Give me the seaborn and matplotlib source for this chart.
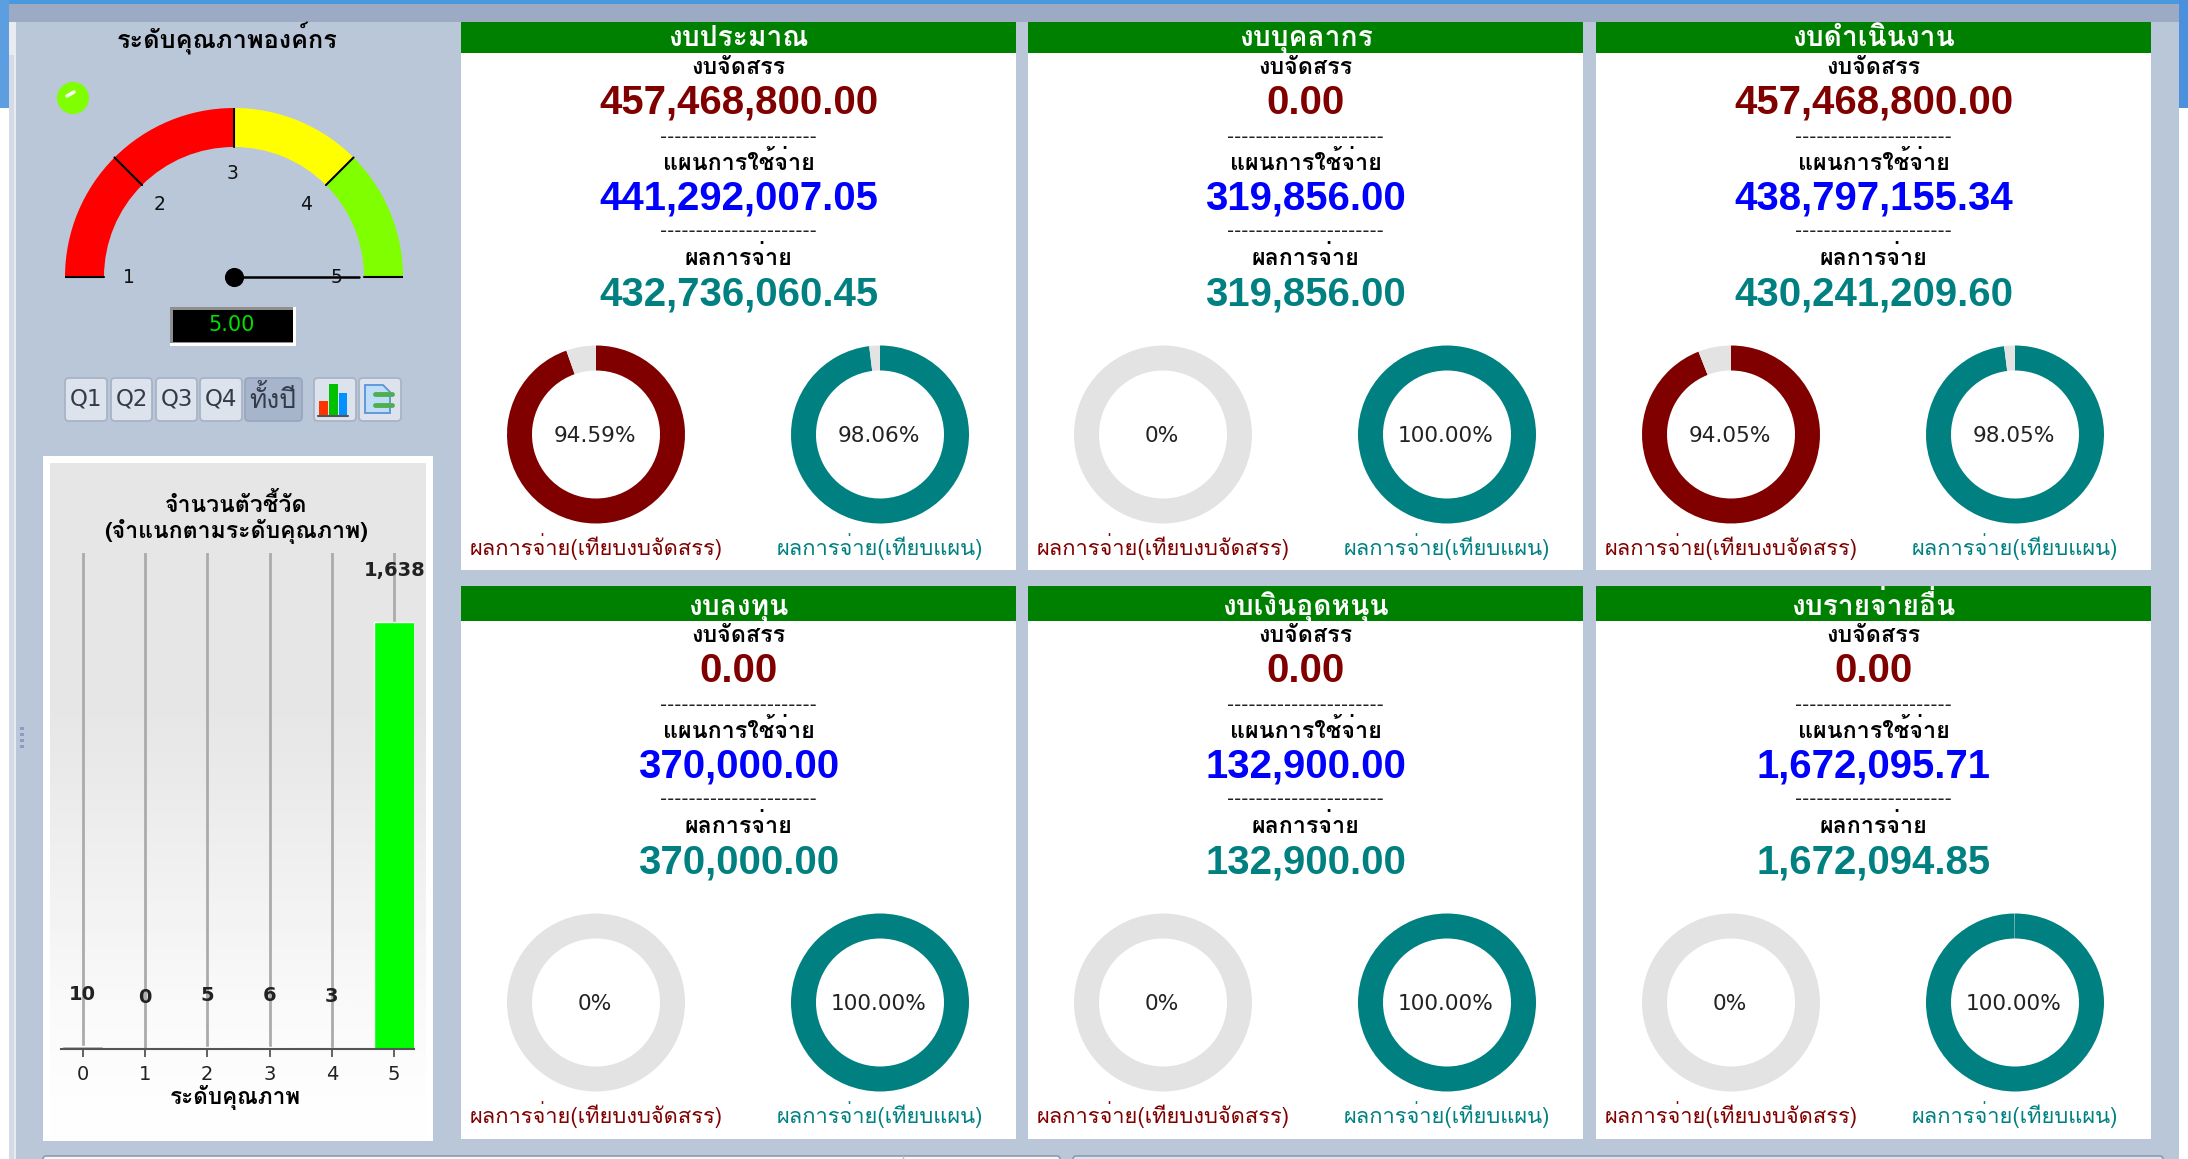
import numpy as np
import pandas as pd
import matplotlib
matplotlib.use('Agg')
import matplotlib.pyplot as plt
from matplotlib.patches import Rectangle, FancyBboxPatch, Circle, Polygon
import seaborn as sns

W, H = 2188, 1159

# ---------- data ----------
panel_titles = ['งบประมาณ', 'งบบุคลากร', 'งบดำเนินงาน', 'งบลงทุน', 'งบเงินอุดหนุน', 'งบรายจ่ายอื่น']
allocated = ['457,468,800.00', '0.00', '457,468,800.00', '0.00', '0.00', '0.00']
planned = ['441,292,007.05', '319,856.00', '438,797,155.34', '370,000.00', '132,900.00', '1,672,095.71']
paid = ['432,736,060.45', '319,856.00', '430,241,209.60', '370,000.00', '132,900.00', '1,672,094.85']
pct_alloc = [94.59, 0, 94.05, 0, 0, 0]
pct_plan = [98.06, 100.00, 98.05, 100.00, 100.00, 99.95]
pct_alloc_labels = ['94.59%', '0%', '94.05%', '0%', '0%', '0%']
pct_plan_labels = ['98.06%', '100.00%', '98.05%', '100.00%', '100.00%', '100.00%']

levels = ['0', '1', '2', '3', '4', '5']
level_counts = [10, 0, 5, 6, 3, 1638]
level_count_labels = ['10', '0', '5', '6', '3', '1,638']
level_colors = ['#AAAAAA', '#FF0000', '#FF00FF', '#FFFF00', '#FFA500', '#00FF00']

gauge_value = 5.00
gauge_ticks = [1, 2, 3, 4, 5]
gauge_spans = [2, 1, 1]
gauge_colors = ['#FF0000', '#FFFF00', '#7FFF00']

lbl_alloc = 'งบจัดสรร'
lbl_plan = 'แผนการใช้จ่าย'
lbl_paid = 'ผลการจ่าย'
cap_alloc = 'ผลการจ่าย(เทียบงบจัดสรร)'
cap_plan = 'ผลการจ่าย(เทียบแผน)'
quarters = ['Q1', 'Q2', 'Q3', 'Q4', 'ทั้งปี']

# ---------- style ----------
sns.set_style('white')
plt.rcParams['font.family'] = ['Loma', 'DejaVu Sans']

BG = '#BAC7D9'
RED = '#800000'
BLUE = '#0000FF'
TEAL = '#008080'
GRAY = '#E3E3E3'
GREEN = '#008000'
DJV = ['DejaVu Sans']
NUM = ['Liberation Sans']

fig = plt.figure(figsize=(W / 100, H / 100), dpi=100, facecolor=BG)


def axpx(x0, y0, x1, y1, z=1):
    a = fig.add_axes([x0 / W, 1 - y1 / H, (x1 - x0) / W, (y1 - y0) / H], zorder=z)
    return a


bg = axpx(0, 0, W, H, 0)
bg.set_xlim(0, W)
bg.set_ylim(H, 0)
bg.axis('off')


def rect(x0, y0, x1, y1, c, z=1, **k):
    bg.add_patch(Rectangle((x0, y0), x1 - x0, y1 - y0, facecolor=c, edgecolor='none', zorder=z, **k))


def txt(x, y, s, size, c='black', bold=False, a=None, va='center', **k):
    return (a or bg).text(x, y, s, fontsize=size, color=c, ha='center', va=va,
                          fontweight='bold' if bold else 'normal', zorder=10, **k)


# window frame
rect(0, 0, W, 4, '#4A98E0')
rect(0, 4, W, 22, '#9CABC3')
rect(0, 0, 9, 108, '#5C9EE0')
rect(0, 108, 9, H, '#FFFFFF')
rect(9, 22, 16, H, '#E8EBF0')
rect(9, 55, 14, H, '#D5DBE6')
rect(2179, 0, W, 108, '#4A90DC')
rect(2179, 108, W, H, '#FFFFFF')
for yy in [727, 733, 739, 745]:
    rect(20, yy, 24, yy + 3, '#8C9CC0')

# gauge
txt(227, 38, 'ระดับคุณภาพองค์กร', 18.2, bold=True)
bg.add_patch(Circle((73, 98), 16, fc='#7FFF00', ec='none', zorder=3))
bg.plot([67, 74], [96, 92], color='white', lw=2.5, zorder=4)

gx, gy, gR, gr = 234, 277, 169, 130
ga = axpx(gx - gR, gy - gR, gx + gR, gy + gR, 2)
ga.patch.set_alpha(0)
wedges, _ = ga.pie(gauge_spans + [sum(gauge_spans)], colors=gauge_colors + ['none'], startangle=180,
                   counterclock=False, radius=1, wedgeprops=dict(width=1 - gr / gR, linewidth=0))
ga.set_xlim(-1, 1)
ga.set_ylim(-1, 1)
for t in gauge_ticks:
    ang = np.pi * (1 - (t - 1) / 4)
    if t < 5:
        ga.plot([gr / gR * np.cos(ang), np.cos(ang)], [gr / gR * np.sin(ang), np.sin(ang)], color='black', lw=1.5)
    ga.text(0.615 * np.cos(ang) - 0.006, 0.615 * np.sin(ang) - 0.005, str(t), ha='center', va='center',
            fontsize=13.5, color='#111111', family=DJV, zorder=9)
ga.plot([gr / gR, 1], [0, 0], color='black', lw=1.5)
ang = np.pi * (1 - (gauge_value - 1) / 4)
ga.plot([0, 0.74 * np.cos(ang)], [0, 0.74 * np.sin(ang)], color='black', lw=1.8, zorder=8)
ga.scatter([0], [0], s=190, color='black', zorder=9, linewidths=0)

# digital read-out
rect(170, 307, 296, 346, '#FFFFFF')
rect(170, 307, 293, 343, '#8F8F8F')
rect(173, 310, 293, 342, '#000000')
txt(232, 325, f'{gauge_value:.2f}', 15, c='#00E000', family=DJV)


def button(x0, x1, c='#DDE3EC', ec='#A8B4C6'):
    bg.add_patch(FancyBboxPatch((x0 + 1, 378), x1 - x0 - 2, 43, boxstyle='round,pad=0,rounding_size=4',
                                fc=c, ec=ec, lw=1.3, zorder=3))


for (x0, x1), q in zip([(64, 108), (110, 153), (155, 198), (199, 243), (244, 303)], quarters):
    active = q == quarters[-1]
    button(x0, x1, '#A6B5CC' if active else '#DDE3EC', '#98A7BE' if active else '#A8B4C6')
    txt((x0 + x1) / 2 - (1 if active else 0), 399, q, 19 if active else 16.5, c='#333B4A',
        family=['Loma'] if active else DJV)
button(313, 357)
button(358, 402)
# toolbar icons
rect(319, 401, 328, 415, '#FF3300', z=5)
rect(329, 384, 338, 415, '#00C000', z=5)
rect(339, 393, 347, 415, '#0090FF', z=5)
bg.plot([318, 348], [415.5, 415.5], color='#555555', lw=1.5, zorder=6)
bg.add_patch(Polygon([(365, 385), (383, 385), (390, 392), (390, 413), (365, 413)],
                     fc='#BFDDF7', ec='#5A93D8', lw=1.3, zorder=5))
bg.plot([375, 392], [394, 394], color='#4FAF4F', lw=3.5, zorder=6)
bg.plot([375, 392], [405, 405], color='#4FAF4F', lw=3.5, zorder=6)

# bar chart card
rect(43, 456, 433, 1141, '#FFFFFF')
grad = bg.imshow(np.array([0.902] * 5 + [0.915, 0.93, 0.945, 0.96, 0.975, 0.985, 0.995]).reshape(-1, 1),
                 extent=(50, 426, 1140, 463), cmap='gray', vmin=0, vmax=1, aspect='auto', zorder=2,
                 interpolation='bilinear')
bg.set_xlim(0, W)
bg.set_ylim(H, 0)

base_y, top_y = 1048.5, 553
bx0, bx1 = 61, 414
bar_ax = axpx(bx0, top_y, bx1, base_y, 3)
bar_ax.patch.set_alpha(0)
df = pd.DataFrame({'level': levels, 'count': level_counts})
for i in range(len(levels)):
    bar_ax.axvline(i, color='#ABABAB', lw=2, zorder=1)
sns.barplot(data=df, x='level', y='count', hue='level', palette=level_colors, order=levels,
            width=0.66, legend=False, ax=bar_ax, zorder=2, saturation=1)
bar_ax.set_xlim(-0.348, 5.318)
bar_ax.set_ylim(0, 1903)
for s in ['top', 'right', 'left']:
    bar_ax.spines[s].set_visible(False)
bar_ax.spines['bottom'].set_color('#555555')
bar_ax.spines['bottom'].set_linewidth(1.5)
bar_ax.set_yticks([])
bar_ax.set_ylabel('')
bar_ax.set_xlabel('')
bar_ax.tick_params(axis='x', length=6, width=1.3, color='#555555', labelsize=14, labelcolor='#222222',
                   pad=6, bottom=True)
for t in bar_ax.get_xticklabels():
    t.set_family(DJV)
for i, (v, lab) in enumerate(zip(level_counts, level_count_labels)):
    bar_ax.annotate(lab, (i, v), xytext=(0, 37), textcoords='offset points', ha='center', va='center',
                    fontsize=14, fontweight='bold', color='#222222', family=DJV, zorder=5)
txt(236, 504, 'จำนวนตัวชี้วัด', 16.6, bold=True)
txt(236, 531, '(จำแนกตามระดับคุณภาพ)', 16.6, bold=True)
txt(235, 1098, 'ระดับคุณภาพ', 16.2, bold=True)

# bottom strip
bg.add_patch(FancyBboxPatch((43, 1156), 1017, 20, boxstyle='round,pad=0,rounding_size=3',
                            fc='#F5F7FA', ec='#8D9BB0', lw=1.2, zorder=2))
bg.plot([903, 903], [1156, H], color='#B5C0D0', lw=1, zorder=3)
bg.add_patch(FancyBboxPatch((1073, 1156), 1090, 20, boxstyle='round,pad=0,rounding_size=3',
                            fc='#DDE3EC', ec='#8D9BB0', lw=1.2, zorder=2))

# budget panels
panel_x = [461, 1028, 1596]
panel_w = 555
row_top = [22, 586]
row_head = [30.5, 34.5]
row_title_base = [46, 615]
row_bottom = [570, 1139]
row_off = [0, 568]
dashes = '-' * 22
VAL = 28.9
for i, title in enumerate(panel_titles):
    r, c = divmod(i, 3)
    x0 = panel_x[c]
    cx = x0 + panel_w / 2
    o = row_off[r]
    rect(x0, row_top[r], x0 + panel_w, row_bottom[r], '#FFFFFF')
    rect(x0, row_top[r], x0 + panel_w, row_top[r] + row_head[r], GREEN, z=2)
    txt(cx, row_title_base[r], title, 20.3, c='white', bold=True, va='baseline')
    txt(cx, 74.5 + o, lbl_alloc, 16.8, bold=True, va='baseline')
    txt(cx, 114 + o, allocated[i], VAL, c=RED, bold=True, family=NUM, va='baseline')
    txt(cx, 137 + o, dashes, 14.1, c='#222222', family=DJV)
    txt(cx, 170 + o, lbl_plan, 16.8, bold=True, va='baseline')
    txt(cx, 209.5 + o, planned[i], VAL, c=BLUE, bold=True, family=NUM, va='baseline')
    txt(cx, 232 + o, dashes, 14.1, c='#222222', family=DJV)
    txt(cx, 265 + o, lbl_paid, 16.8, bold=True, va='baseline')
    txt(cx, 305 + o, paid[i], VAL, c=TEAL, bold=True, family=NUM, va='baseline')

    for dx, pct, col, lab, cap in [(135, pct_alloc[i], RED, pct_alloc_labels[i], cap_alloc),
                                   (419, pct_plan[i], TEAL, pct_plan_labels[i], cap_plan)]:
        dcx, dcy, R, rin = x0 + dx, 434.5 + o, 89, 64
        da = axpx(dcx - R, dcy - R, dcx + R, dcy + R, 2)
        da.patch.set_alpha(0)
        da.pie([pct, 100 - pct], colors=[col, GRAY], startangle=90, counterclock=False, radius=1,
               wedgeprops=dict(width=1 - rin / R, linewidth=0))
        da.set_xlim(-1, 1)
        da.set_ylim(-1, 1)
        txt(dcx - 1, dcy + 1.5, lab, 15.6, c='#222222', family=DJV)
        txt(dcx, 555 + o, cap, 15.8, c=col, va='baseline')

fig.savefig('out.png', dpi=100, facecolor=BG)
